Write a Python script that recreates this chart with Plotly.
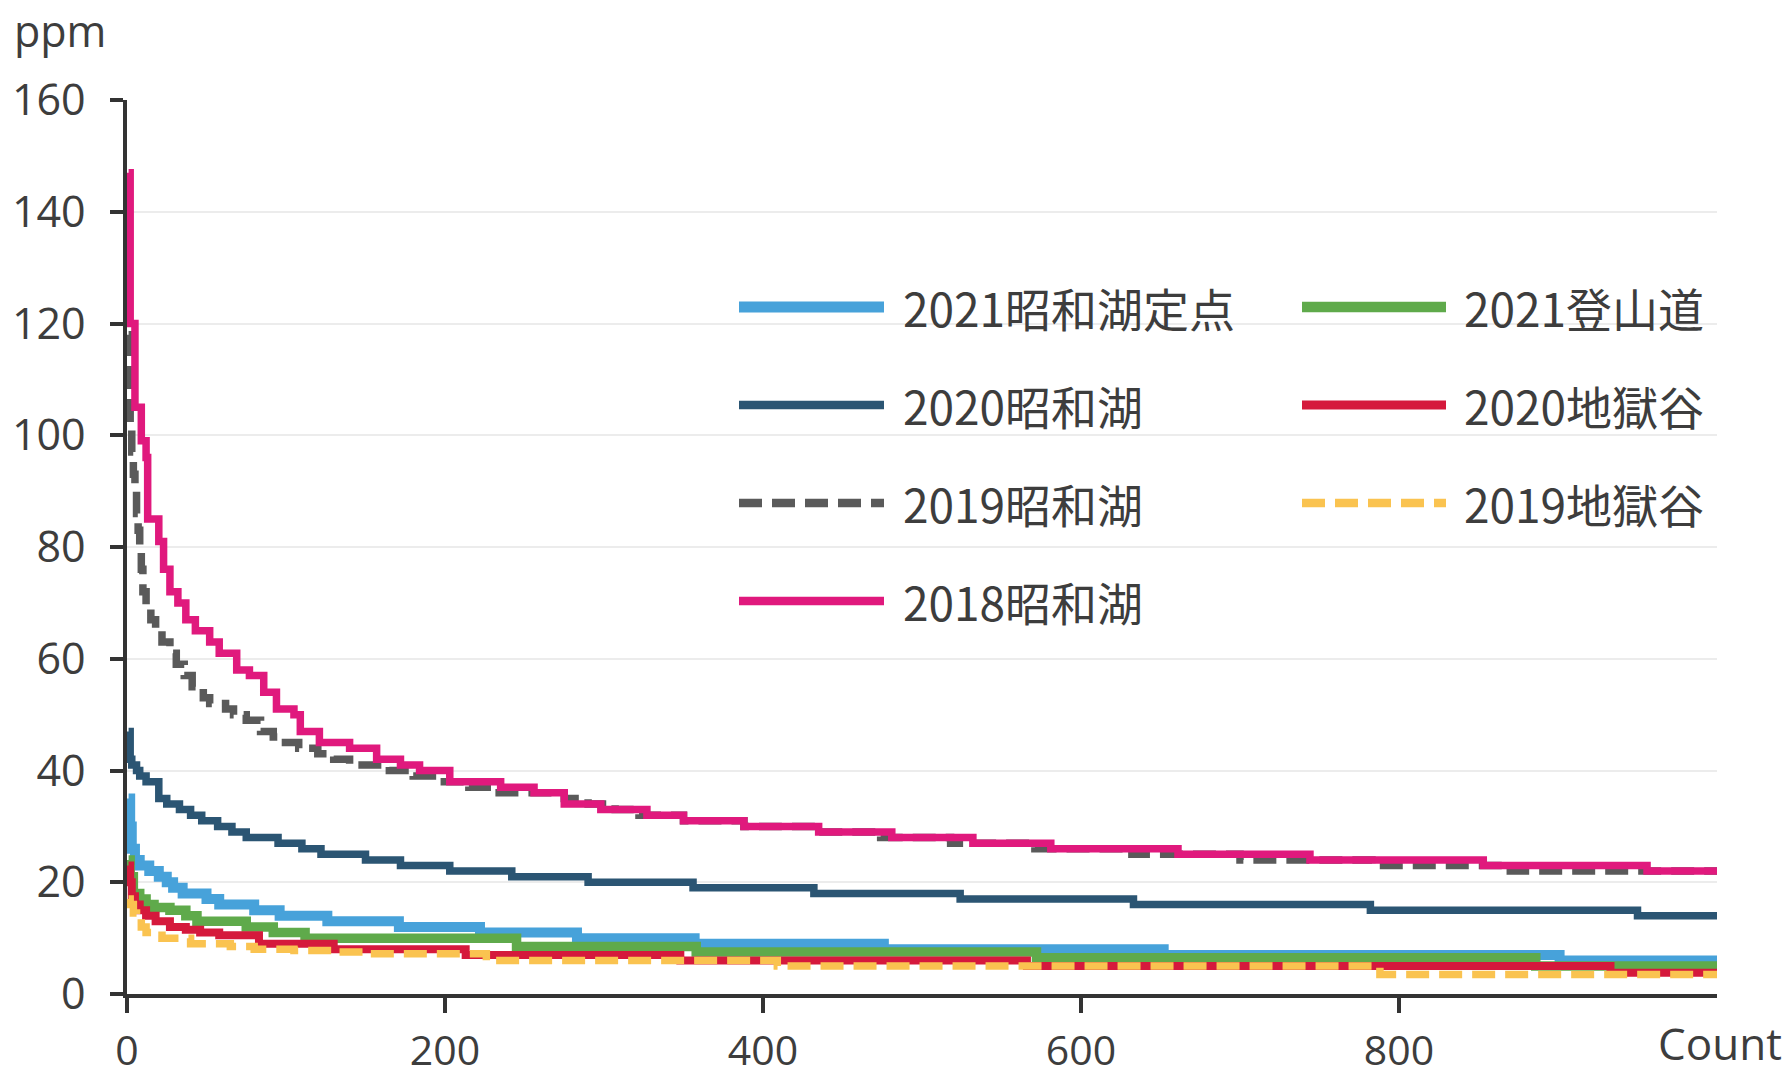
import plotly.graph_objects as go

# ---------------- data ----------------
series_names = ["2021昭和湖定点", "2021登山道", "2020昭和湖", "2020地獄谷",
                "2019昭和湖", "2019地獄谷", "2018昭和湖"]

count_2021_teiten = [1, 2, 3, 5, 8, 14, 20, 25, 29, 35, 50, 58, 80, 96, 126, 171, 222, 283, 357, 476, 652, 901, 1000]
ppm_2021_teiten = [35, 30, 26, 24, 23, 22, 21, 20, 19, 18, 17, 16, 15, 14, 13, 12, 11, 10, 9, 8, 7, 6, 6]

count_2021_tozando = [1, 2, 4, 8, 12, 17, 27, 37, 44, 75, 92, 112, 245, 358, 572, 886, 1000]
ppm_2021_tozando = [24, 21, 18, 17, 16, 15.5, 15, 14, 13, 12, 11, 10, 8.5, 7.5, 6.5, 5, 5]

count_2020_showako = [1, 2, 3, 6, 8, 12, 20, 25, 33, 40, 47, 57, 66, 75, 95, 110, 122, 150, 172, 203, 242, 290, 356, 432, 524, 633, 782, 950, 1000]
ppm_2020_showako = [47, 42, 41, 40, 39, 38, 35, 34, 33, 32, 31, 30, 29, 28, 27, 26, 25, 24, 23, 22, 21, 20, 19, 18, 17, 16, 15, 14, 14]

count_2020_jigokudani = [1, 2, 3, 5, 8, 12, 18, 27, 37, 46, 58, 83, 130, 213, 348, 566, 933, 1000]
ppm_2020_jigokudani = [23, 20, 17.5, 16, 15, 14, 13, 12, 11.5, 11, 10.5, 9, 8, 7, 6, 5, 3.8, 3.8]

count_2019_showako = [1, 2, 3, 4, 5, 6, 7, 8, 9, 10, 12, 15, 18, 22, 27, 31, 36, 41, 48, 52, 62, 67, 75, 84, 92, 96,
                      108, 120, 130, 140, 165, 180, 195, 215, 230, 275, 290, 307, 322, 350, 388, 435, 474, 518,
                      571, 632, 700, 783, 870, 1000]
ppm_2019_showako = [118, 102, 97, 93, 90, 86, 83, 80, 76, 72, 69, 67, 65, 63, 61, 59, 57, 55, 53, 52, 51, 50, 49, 47, 46, 45,
                    44, 43, 42, 41, 40, 39, 38, 37, 36, 35, 34, 33, 32, 31, 30, 29, 28, 27,
                    26, 25, 24, 23, 22, 22]

count_2019_jigokudani = [1, 2, 4, 6, 9, 12, 17, 22, 40, 65, 80, 105, 130, 150, 226, 409, 788, 1000]
ppm_2019_jigokudani = [17, 16, 14.5, 13.5, 12, 11, 10.5, 10, 9, 8.5, 8, 7.8, 7.5, 7.2, 6, 5, 3.5, 3.5]

count_2018_showako = [1, 2, 5, 9, 12, 13, 20, 23, 27, 32, 37, 43, 52, 58, 69, 77, 86, 94, 105, 109, 121, 140, 157,
                      172, 184, 203, 235, 256, 275, 298, 327, 350, 388, 435, 481, 532, 581, 661, 744, 853, 956, 1000]
ppm_2018_showako = [147, 120, 105, 99, 96, 85, 81, 76, 72, 70, 67, 65, 63, 61, 58, 57, 54, 51, 50, 47, 45, 44, 42,
                    41, 40, 38, 37, 36, 34, 33, 32, 31, 30, 29, 28, 27, 26, 25, 24, 23, 22, 22]

y_ticks = [0, 20, 40, 60, 80, 100, 120, 140, 160]
x_ticks = [0, 200, 400, 600, 800]

# ---------------- styles ----------------
TEXT = "#3d3d3d"
AXIS = "#333333"
styles = {
    "2021昭和湖定点": dict(color="#47A2DA", width=10, dash="solid"),
    "2021登山道": dict(color="#5FAA4B", width=9.5, dash="solid"),
    "2020昭和湖": dict(color="#2B5573", width=7.5, dash="solid"),
    "2020地獄谷": dict(color="#D5193C", width=8, dash="solid"),
    "2019昭和湖": dict(color="#5A5A5A", width=7.5, dash="23px,10px"),
    "2019地獄谷": dict(color="#FAC350", width=7.5, dash="23px,10px"),
    "2018昭和湖": dict(color="#E0197D", width=7.5, dash="solid"),
}
data = {
    "2021昭和湖定点": (count_2021_teiten, ppm_2021_teiten),
    "2021登山道": (count_2021_tozando, ppm_2021_tozando),
    "2020昭和湖": (count_2020_showako, ppm_2020_showako),
    "2020地獄谷": (count_2020_jigokudani, ppm_2020_jigokudani),
    "2019昭和湖": (count_2019_showako, ppm_2019_showako),
    "2019地獄谷": (count_2019_jigokudani, ppm_2019_jigokudani),
    "2018昭和湖": (count_2018_showako, ppm_2018_showako),
}
draw_order = ["2021昭和湖定点", "2021登山道", "2020地獄谷", "2019地獄谷",
              "2020昭和湖", "2019昭和湖", "2018昭和湖"]

fig = go.Figure()
for name in draw_order:
    xs, ys = data[name]
    st = styles[name]
    fig.add_trace(go.Scatter(x=xs, y=ys, mode="lines", name=name, line_shape="hv",
                             line=dict(color=st["color"], width=st["width"], dash=st["dash"]),
                             showlegend=False))

# ---------------- manual legend (2 columns x 4 rows) ----------------
# plot area in px: x 127..1717, y 100..994
def px_to_paper_x(px):
    return (px - 127) / 1590.0

def px_to_paper_y(py):
    return (994 - py) / 894.0

col_line = [(739, 884), (1302, 1446)]
col_text = [901, 1462]
row_y = [307, 405, 503, 601]
shapes = []
annotations = []
for i, name in enumerate(series_names):
    row, col = divmod(i, 2)
    st = styles[name]
    yv = px_to_paper_y(row_y[row])
    shapes.append(dict(type="line", xref="paper", yref="paper",
                       x0=px_to_paper_x(col_line[col][0]), x1=px_to_paper_x(col_line[col][1]),
                       y0=yv, y1=yv,
                       line=dict(color=st["color"], width=st["width"] + 1, dash=st["dash"])))
    annotations.append(dict(xref="paper", yref="paper", x=px_to_paper_x(col_text[col]), y=yv,
                            xanchor="left", yanchor="middle", showarrow=False, text=name,
                            font=dict(family="Noto Sans CJK JP", size=46, color=TEXT)))

annotations.append(dict(xref="paper", yref="paper", x=px_to_paper_x(12), y=px_to_paper_y(31),
                        xanchor="left", yanchor="middle", showarrow=False, text="ppm",
                        font=dict(family="Open Sans", size=43, color=TEXT)))
annotations.append(dict(xref="paper", yref="paper", x=px_to_paper_x(1656), y=px_to_paper_y(1043),
                        xanchor="left", yanchor="middle", showarrow=False, text="Count",
                        font=dict(family="Open Sans", size=44, color=TEXT)))

fig.update_layout(
    template="none",
    width=1788, height=1076, autosize=False,
    margin=dict(l=127, r=71, t=100, b=82, autoexpand=False),
    paper_bgcolor="white", plot_bgcolor="white",
    font=dict(family="Open Sans", color=TEXT, size=40),
    shapes=shapes, annotations=annotations,
    showlegend=False,
)
fig.update_xaxes(range=[0, 1000], tickvals=x_ticks, ticktext=[str(v) for v in x_ticks],
                 automargin=False,
                 showgrid=False, zeroline=False, showline=True, linecolor=AXIS, linewidth=3.5,
                 ticks="outside", ticklen=15, tickwidth=3.5, tickcolor=AXIS,
                 tickfont=dict(family="Open Sans", size=41, color=TEXT), ticklabelstandoff=3)
fig.update_yaxes(range=[0, 160], tickvals=y_ticks, ticktext=[str(v) for v in y_ticks],
                 automargin=False,
                 showgrid=True, gridcolor="#ECECEC", gridwidth=1.5, zeroline=False,
                 showline=True, linecolor=AXIS, linewidth=3.5,
                 ticks="outside", ticklen=13, tickwidth=3.5, tickcolor=AXIS,
                 tickfont=dict(family="Open Sans", size=43, color=TEXT), ticklabelstandoff=16)

fig.write_html("out.html", config={"displayModeBar": False},
               post_script="document.body.style.margin='0';")
